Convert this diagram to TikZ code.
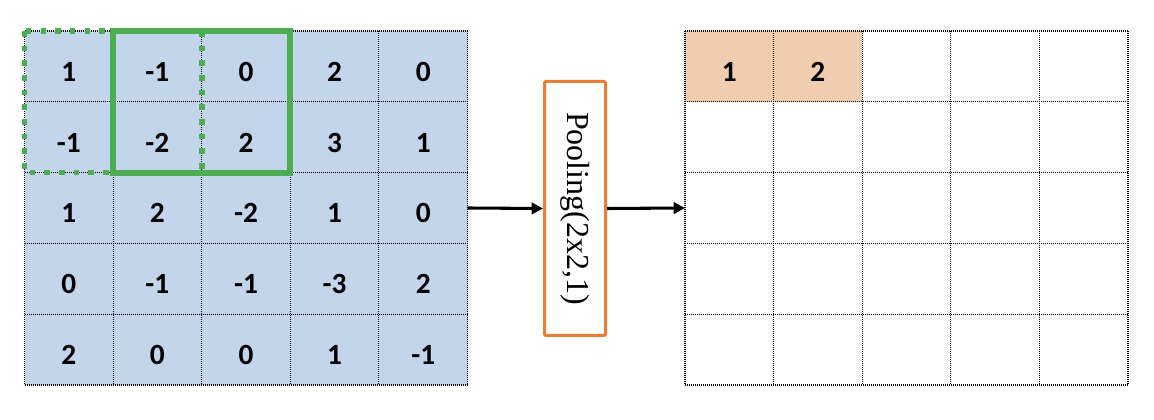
\documentclass[tikz,border=0pt]{standalone}
\usepackage{fontspec}
\setmainfont{Liberation Serif}
\newfontfamily\numfont{Carlito}
\usetikzlibrary{arrows.meta}
\definecolor{cellblue}{RGB}{195,213,235}
\definecolor{cellorange}{RGB}{241,205,176}
\definecolor{wingreen}{RGB}{78,172,82}
\definecolor{boxorange}{RGB}{232,125,55}
\begin{document}
\begin{tikzpicture}[x=0.75pt,y=-0.75pt,
  cell/.style={minimum width=66.45pt,minimum height=53.1pt,inner sep=0pt,outer sep=0pt,
    text height=22.3pt,text depth=0pt,
    font=\numfont\bfseries\fontsize{22}{22}\selectfont},
  gridline/.style={line width=0.8pt,dash pattern=on 0.75pt off 0.75pt},
  solidwin/.style={draw=wingreen,line width=4.5pt},
  dotwin/.style={draw=wingreen,line width=4.2pt,dash pattern=on 4.2pt off 6.8pt},
  poolbox/.style={draw=boxorange,line width=2.25pt,rounded corners=1pt,fill=white,
    minimum width=45.75pt,minimum height=190.5pt,inner sep=0pt},
  flow/.style={line width=2.3pt,-{Triangle[length=8.5pt,width=8.5pt]}}]
\useasboundingbox (0,0) rectangle (1154,420);
% input grid
\foreach \rowvals [count=\r] in {{1,-1,0,2,0},{-1,-2,2,3,1},{1,2,-2,1,0},{0,-1,-1,-3,2},{2,0,0,1,-1}}{
  \foreach \v [count=\c] in \rowvals {
    \node[cell,fill=cellblue] (L-\r-\c) at ({24.5+(\c-0.5)*88.6},{31+(\r-0.5)*70.8}) {\v};
  }
}
% output grid
\foreach \r in {1,...,5}{
  \foreach \c in {1,...,5}{
    \node[cell] (R-\r-\c) at ({685+(\c-0.5)*88.6},{31+(\r-0.5)*70.8}) {};
  }
}
\node[cell,fill=cellorange] (O-1) at (R-1-1) {1};
\node[cell,fill=cellorange] (O-2) at (R-1-2) {2};
% grid lines
\foreach \i in {0,...,5}{
  \draw[gridline] ({24.5+\i*88.6},31) -- ({24.5+\i*88.6},385);
  \draw[gridline] (24.5,{31+\i*70.8}) -- (467.5,{31+\i*70.8});
  \draw[gridline] ({685+\i*88.6},31) -- ({685+\i*88.6},385);
  \draw[gridline] (685,{31+\i*70.8}) -- (1128,{31+\i*70.8});
}
% pooling windows
\draw[solidwin] (L-1-2.north west) rectangle (L-2-3.south east);
\draw[dotwin] (L-1-1.north west) rectangle (L-2-2.south east);
% pooling box
\node[poolbox] (pool) at (575,208.5) {};
\node[rotate=-90,font=\fontsize{24}{24}\selectfont] (poollabel) at (pool.center) {Pooling(2x2,1)};
% arrows
\draw[flow] (L-3-5.east) -- (pool.west);
\draw[flow] (pool.east) -- (R-3-1.west);
\end{tikzpicture}
\end{document}
